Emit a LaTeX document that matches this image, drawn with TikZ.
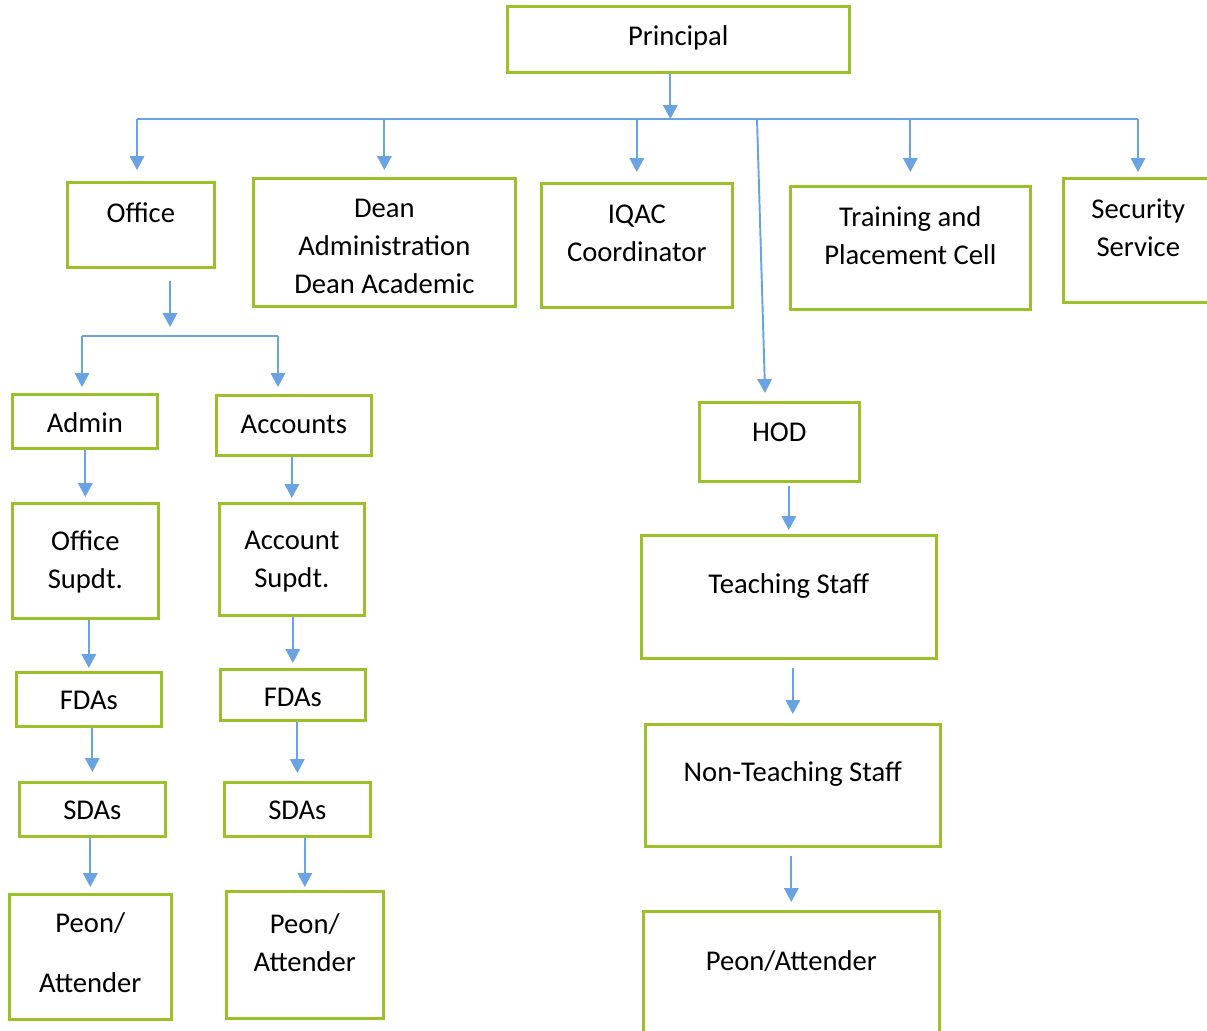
\documentclass[tikz,border=0pt]{standalone}
\usepackage{fontspec}
\setmainfont{Carlito}
\usetikzlibrary{arrows.meta}
\usetikzlibrary{positioning}
\definecolor{boxgreen}{RGB}{155,192,40}
\definecolor{lineblue}{RGB}{105,163,228}
\newdimen\px \px=0.02cm

\begin{document}
\begin{tikzpicture}[x=1\px, y=-1\px,
 box/.style n args={3}{draw=boxgreen, line width=1.5pt, anchor=north west, inner sep=0pt, align=center, font=\fontsize{16.3}{21.5}\selectfont, minimum width=#1\px, text height=#2\px, text depth=#3\px},
 link/.style={draw=lineblue, line width=1.1pt},
 arr/.style={link, -{Triangle[width=0.29cm, length=0.28cm]}, shorten >=#1\px},
 arr/.default=5,
 ]
 \useasboundingbox[fill=white] (0,0) rectangle (1207,1031);
 %Nodes
 \node[box={342}{39}{27}] (principal_node) at (506,5) {Principal};
 \node[box={147}{40}{45}] (office_node) at (66,181) {Office};
 \node[box={262}{115}{13}] (dean_node) at (252,177) {Dean\\Administration\\Dean Academic};
 \node[box={191}{78}{46}] (iqac_node) at (540,182) {IQAC\\Coordinator};
 \node[box={240}{78}{45}] (training_node) at (789,185) {Training and\\Placement Cell};
 \node[box={150}{78}{46}] (security_node) at (1062,177) {Security\\Service};
 \node[box={145}{38}{16}] (admin_node) at (11,393) {Admin};
 \node[box={155}{38}{22}] (accounts_node) at (215,394) {Accounts};
 \node[box={146}{85}{30}] (offsupdt_node) at (11,502) {Office\\Supdt.};
 \node[box={145}{84}{28}] (accsupdt_node) at (218,502) {Account\\Supdt.};
 \node[box={145}{37}{17}] (fdal_node) at (15,671) {FDAs};
 \node[box={145}{37}{14}] (fdar_node) at (219,668) {FDAs};
 \node[box={146}{37}{17}] (sdal_node) at (18,781) {SDAs};
 \node[box={146}{37}{17}] (sdar_node) at (223,781) {SDAs};
 \node[box={162}{98}{27}] (peonl_node) at (8,893) {Peon/\\[22\px]Attender};
 \node[box={157}{80}{47}] (peonr_node) at (225,890) {Peon/\\Attender};
 \node[box={160}{39}{40}] (hod_node) at (698,401) {HOD};
 \node[box={295}{58}{65}] (teaching_node) at (640,534) {Teaching Staff};
 \node[box={295}{57}{65}] (nonteaching_node) at (644,723) {Non-Teaching Staff};
 \node[box={296}{59}{80}] (peonhod_node) at (642,910) {Peon/Attender};

 \coordinate (bus_left) at (137,119);
 \coordinate (bus_right) at (1138,119);
 \coordinate (hod_top) at (757,119);
 \coordinate (office_bus) at (170,336);
 \coordinate (office_left) at (82,336);
 \coordinate (office_right) at (278,336);

 %Lines
 \draw[arr=0] ([xshift=-0.16cm]principal_node.south) -- ([xshift=-0.16cm]principal_node.south |- bus_left);
 \draw[link] (bus_left) -- (bus_right);
 \draw[arr=11] (bus_left) -- (bus_left |- office_node.north);
 \draw[arr=7] (bus_left -| dean_node.north) -- (dean_node.north);
 \draw[arr=10] (bus_left -| iqac_node.north) -- (iqac_node.north);
 \draw[arr=13] (bus_left -| training_node.north) -- (training_node.north);
 \draw[arr=5] (bus_right) -- (bus_right |- security_node.north);
 \draw[arr=8] (hod_top) -- ([xshift=-0.28cm]hod_node.north);

 \draw[arr=9, shorten <=0.24cm] (office_node.south -| office_bus) -- (office_bus);
 \draw[link] (office_left) -- (office_right);
 \draw[arr=6] (office_left) -- (office_left |- admin_node.north);
 \draw[arr=7] (office_right) -- (office_right |- accounts_node.north);

 \draw[arr=5] (admin_node.south -| offsupdt_node.north) -- (offsupdt_node.north);
 \draw[arr=3] (offsupdt_node.south -| fdal_node.north) -- (fdal_node.north);
 \draw[arr=9] (fdal_node.south -| sdal_node.north) -- (sdal_node.north);
 \draw[arr=6] (sdal_node.south -| peonl_node.north) -- (peonl_node.north);
 \draw[arr=4] (accounts_node.south -| accsupdt_node.north) -- (accsupdt_node.north);
 \draw[arr=5] (accsupdt_node.south -| fdar_node.north) -- (fdar_node.north);
 \draw[arr=8] (fdar_node.south -| sdar_node.north) -- (sdar_node.north);
 \draw[arr=3] (sdar_node.south -| peonr_node.north) -- (peonr_node.north);

 \draw[arr=4, shorten <=0.06cm] (hod_node.south -| teaching_node.north) -- (teaching_node.north);
 \draw[arr=9, shorten <=0.16cm] (teaching_node.south -| nonteaching_node.north) -- (nonteaching_node.north);
 \draw[arr=8, shorten <=0.16cm] (nonteaching_node.south -| peonhod_node.north) -- (peonhod_node.north);
\end{tikzpicture}
\end{document}
